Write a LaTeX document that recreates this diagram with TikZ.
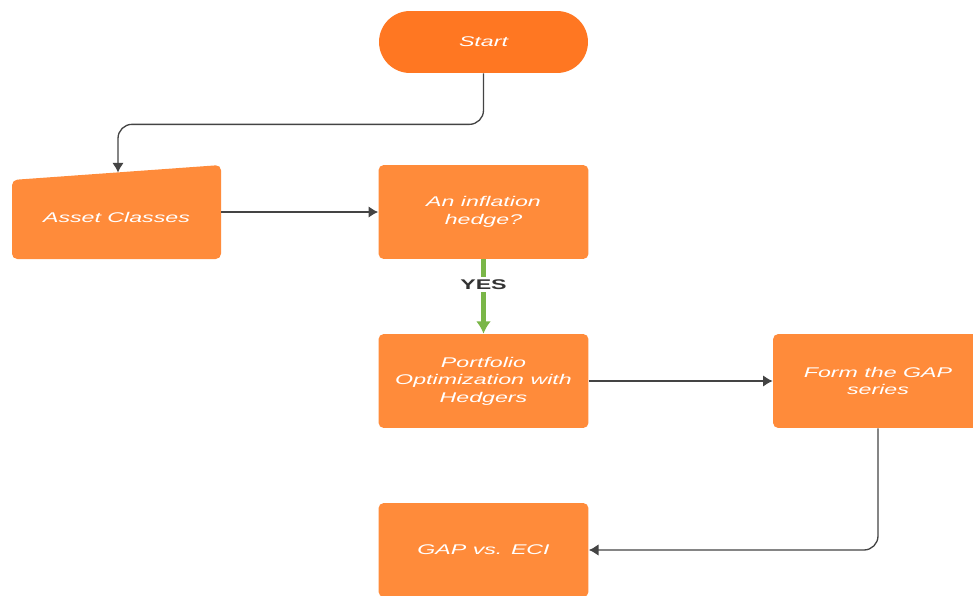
\documentclass[tikz,border=0pt]{standalone}
\usepackage{fontspec}
\usepackage{tikz}
\usetikzlibrary{arrows.meta}
\usetikzlibrary{shapes,calc}
\newfontfamily\boxfont[FakeStretch=1.65]{Liberation Sans}
\definecolor{startorange}{HTML}{FF7722}
\definecolor{boxorange}{HTML}{FF8B3A}
\definecolor{linegray}{HTML}{444444}
\definecolor{yesgreen}{HTML}{7AB648}

\begin{document}
\begin{tikzpicture}[x=0.02cm,y=-0.02cm]
\tikzset{
    start-end/.style={
        fill=startorange,
        rectangle,
        rounded corners=0.62cm,
        minimum width=4.18cm,
        minimum height=1.24cm,
        text=white,
        font=\boxfont\itshape\fontsize{8}{10}\selectfont,
    },
    operation/.style={
        fill=boxorange,
        rectangle,
        rounded corners=3pt,
        minimum width=4.2cm,
        minimum height=1.88cm,
        align=center,
        text=white,
        font=\boxfont\itshape\fontsize{8}{10}\selectfont,
    },
    input/.style={ % slanted top drawn by hand below
        rectangle,
        minimum width=4.18cm,
        minimum height=1.6cm,
        text=white,
        font=\boxfont\itshape\fontsize{8}{10}\selectfont,
    },
    conn/.style={
        draw=linegray,
        line width=0.75pt,
        -{Latex[length=5.5pt,width=6.5pt]},
    },
    yes/.style={
        draw=yesgreen,
        line width=2.3pt,
        -{Latex[length=7pt,width=8.5pt]},
    },
}
\clip (0,0) rectangle (973,595);
\fill[white] (0,0) rectangle (973,595);

\node[start-end] (start) at (483.5,42) {Start};

% manual input shape
\fill[boxorange,rounded corners=3pt] (12,180) -- (221,165) -- (221,259) -- (12,259) -- cycle;
\node[input] (assets) at (116.5,217) {Asset Classes};
\coordinate (assettop) at (118,172.5);

\node[operation] (hedge) at (483.5,212) {An inflation\\hedge?};
\node[operation] (portfolio) at (483.5,381) {Portfolio\\Optimization with\\Hedgers};
\node[operation] (gapseries) at (878,381) {Form the GAP\\series};
\node[operation] (gapeci) at (483.5,550) {GAP vs. ECI};

\draw[conn,rounded corners=8pt] (start.south) -- ++(0,51) -| (assettop);
\draw[conn] (assets.east |- hedge) -- (hedge.west);
\draw[yes] (hedge.south) -- (portfolio.north)
    node[pos=0.34,fill=white,inner sep=1.5pt,text=black!80,font=\boxfont\bfseries\fontsize{8}{10}\selectfont] (yeslabel) {YES};
\draw[conn] (portfolio.east) -- (gapseries.west);
\draw[conn,rounded corners=8pt] (gapseries.south) |- (gapeci.east);
\end{tikzpicture}
\end{document}
